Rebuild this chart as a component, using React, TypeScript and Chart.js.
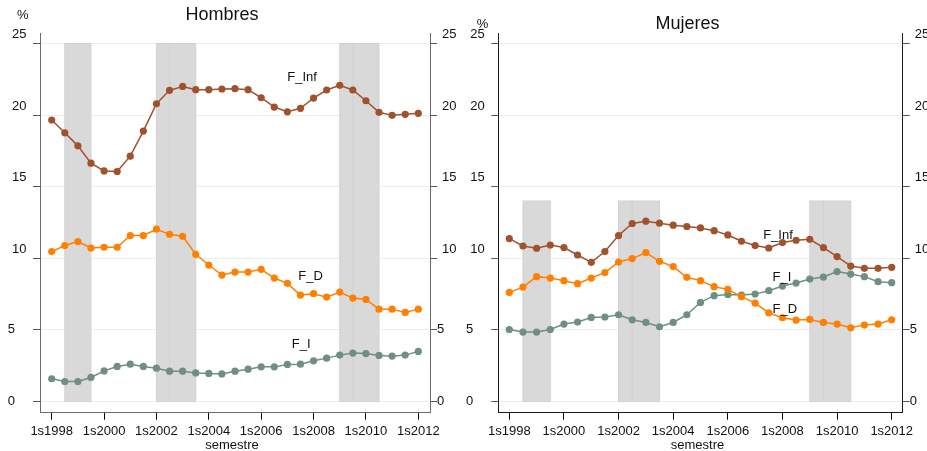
import React, { useEffect, useRef } from "react";
import { Chart, registerables } from "chart.js";

Chart.register(...registerables);

// Semester periods on the x axis
const semesters = [
  "1s1998", "2s1998", "1s1999", "2s1999", "1s2000", "2s2000", "1s2001", "2s2001",
  "1s2002", "2s2002", "1s2003", "2s2003", "1s2004", "2s2004", "1s2005", "2s2005",
  "1s2006", "2s2006", "1s2007", "2s2007", "1s2008", "2s2008", "1s2009", "2s2009",
  "1s2010", "2s2010", "1s2011", "2s2011", "1s2012",
];
const xTickLabels = ["1s1998", "1s2000", "1s2002", "1s2004", "1s2006", "1s2008", "1s2010", "1s2012"];
const yTickValues = [0, 5, 10, 15, 20, 25];

// Shaded periods (start, end)
const shadedPeriods = [
  ["2s1998", "2s1999"],
  ["1s2002", "2s2002"],
  ["2s2002", "2s2003"],
  ["1s2009", "2s2009"],
  ["2s2009", "2s2010"],
];

// Hombres (%)
const hombresInf = [
  19.65, 18.76, 17.85, 16.64, 16.1, 16.06, 17.13, 18.88, 20.79, 21.73, 22.0, 21.77, 21.77, 21.82,
  21.84, 21.77, 21.21, 20.56, 20.23, 20.47, 21.19, 21.75, 22.08, 21.75, 21.0, 20.19, 19.98, 20.05, 20.12,
];
const hombresD = [
  10.47, 10.89, 11.17, 10.72, 10.77, 10.77, 11.59, 11.59, 12.03, 11.68, 11.54, 10.28, 9.53, 8.83,
  9.04, 9.04, 9.23, 8.62, 8.25, 7.43, 7.53, 7.29, 7.64, 7.22, 7.13, 6.45, 6.45, 6.22, 6.45,
];
const hombresI = [
  1.59, 1.4, 1.4, 1.68, 2.14, 2.45, 2.61, 2.45, 2.33, 2.12, 2.12, 2.0, 1.96, 1.93,
  2.12, 2.26, 2.42, 2.42, 2.59, 2.61, 2.84, 3.03, 3.24, 3.38, 3.35, 3.22, 3.17, 3.24, 3.5,
];

// Mujeres (%)
const mujeresInf = [
  11.38, 10.86, 10.7, 10.93, 10.75, 10.23, 9.72, 10.47, 11.59, 12.43, 12.59, 12.45, 12.31, 12.22,
  12.12, 11.93, 11.63, 11.19, 10.89, 10.72, 11.1, 11.26, 11.33, 10.75, 10.12, 9.46, 9.3, 9.3, 9.37,
];
const mujeresD = [
  7.62, 7.99, 8.72, 8.62, 8.44, 8.23, 8.62, 9.0, 9.74, 9.98, 10.4, 9.79, 9.42, 8.67,
  8.44, 8.02, 7.83, 7.32, 6.87, 6.2, 5.85, 5.69, 5.73, 5.52, 5.41, 5.15, 5.34, 5.41, 5.71,
];
const mujeresI = [
  5.03, 4.85, 4.85, 5.03, 5.41, 5.55, 5.87, 5.9, 6.06, 5.71, 5.52, 5.22, 5.52, 6.06,
  6.92, 7.39, 7.48, 7.43, 7.5, 7.74, 8.06, 8.27, 8.55, 8.69, 9.07, 8.9, 8.72, 8.37, 8.3,
];

const seriesNames = ["F_Inf", "F_D", "F_I"];
const seriesColors = ["#a0522d", "#ff8000", "#6f8f80"];

const FONT = "'Liberation Sans', Arial, sans-serif";

type PanelProps = {
  title: string;
  values: number[][];
  // where each series name sits, in (semester index, %) coordinates
  labelAt: [number, number][];
  bandTop: number;
  left: number;
  width: number;
  area: { left: number; right: number };
  xRange: [number, number];
  axisColor: string;
  titleY: number;
  pctPos: [number, number];
};

function Panel(p: PanelProps) {
  const ref = useRef<HTMLCanvasElement>(null);

  useEffect(() => {
    const canvas = ref.current!;
    const height = 451;
    const top = 33;
    const bottom = 412.7;

    const decor = {
      id: "decor",
      beforeDatasetsDraw(chart: any) {
        const { ctx, chartArea } = chart;
        const xs = chart.scales.x;
        const ys = chart.scales.y;
        ctx.save();
        ctx.beginPath();
        ctx.rect(chartArea.left, chartArea.top, chartArea.right - chartArea.left, chartArea.bottom - chartArea.top);
        ctx.clip();
        for (const [a, b] of shadedPeriods) {
          const x0 = xs.getPixelForValue(semesters.indexOf(a));
          const x1 = xs.getPixelForValue(semesters.indexOf(b));
          const y0 = ys.getPixelForValue(p.bandTop);
          const y1 = ys.getPixelForValue(0);
          ctx.fillStyle = "#d9d9d9";
          ctx.fillRect(x0, y0, x1 - x0, y1 - y0);
          ctx.strokeStyle = "#d2d2d2";
          ctx.lineWidth = 1;
          ctx.strokeRect(x0, y0, x1 - x0, y1 - y0);
        }
        ctx.restore();
      },
      afterDraw(chart: any) {
        const { ctx, chartArea } = chart;
        const xs = chart.scales.x;
        const ys = chart.scales.y;
        ctx.save();
        ctx.fillStyle = "#111";
        ctx.textBaseline = "middle";
        ctx.font = `13px ${FONT}`;

        // y tick labels on both sides
        for (const v of yTickValues) {
          const py = ys.getPixelForValue(v);
          const txt = String(v);
          const wide = txt.length > 1;
          ctx.textAlign = "right";
          ctx.fillText(txt, chartArea.left - (wide ? 13.5 : 25), wide ? py - 9 : py);
          ctx.textAlign = "left";
          ctx.fillText(txt, chartArea.right + (wide ? 12 : 7), wide ? py - 9 : py);
        }

        // x tick labels
        ctx.textAlign = "center";
        for (const lab of xTickLabels) {
          const px = xs.getPixelForValue(semesters.indexOf(lab));
          ctx.fillText(lab, px, 431.5);
        }
        ctx.fillText("semestre", (chartArea.left + chartArea.right) / 2 - 3, 445.5);

        // unit mark
        ctx.fillText("%", p.pctPos[0], p.pctPos[1]);

        // series names
        p.labelAt.forEach(([ix, v], i) => {
          ctx.fillText(seriesNames[i], xs.getPixelForValue(ix), ys.getPixelForValue(v));
        });

        // panel title
        ctx.font = `18px ${FONT}`;
        ctx.fillText(p.title, (chartArea.left + chartArea.right) / 2 - 13, p.titleY);
        ctx.restore();
      },
    };

    const chart = new Chart(canvas, {
      type: "line",
      data: {
        datasets: p.values.map((vals, i) => ({
          label: seriesNames[i],
          data: vals.map((v, k) => ({ x: k, y: v })),
          borderColor: seriesColors[i],
          backgroundColor: seriesColors[i],
          pointBackgroundColor: seriesColors[i],
          pointBorderWidth: 0,
          pointRadius: 3.6,
          borderWidth: 1.5,
          tension: 0,
          yAxisID: "y",
        })),
      },
      options: {
        animation: false,
        responsive: false,
        devicePixelRatio: 1,
        layout: { padding: { top, left: 0, right: 0, bottom: 0 } },
        plugins: { legend: { display: false }, tooltip: { enabled: false } },
        scales: {
          x: {
            type: "linear",
            min: p.xRange[0],
            max: p.xRange[1],
            afterBuildTicks: (s: any) => {
              s.ticks = xTickLabels.map((l) => ({ value: semesters.indexOf(l) }));
            },
            afterFit: (s: any) => {
              s.height = height - bottom;
            },
            ticks: { display: false },
            grid: { drawOnChartArea: false, drawTicks: true, tickLength: 7, tickColor: "#000", tickWidth: 1 },
            border: { display: true, color: p.axisColor, width: 1 },
          },
          y: {
            type: "linear",
            position: "left",
            min: -0.78,
            max: 25.73,
            afterBuildTicks: (s: any) => {
              s.ticks = yTickValues.map((v) => ({ value: v }));
            },
            afterFit: (s: any) => {
              s.width = p.area.left;
            },
            ticks: { display: false },
            grid: { color: "#e8eff1", lineWidth: 1, drawTicks: true, tickLength: 7, tickColor: "#555" },
            border: { display: true, color: p.axisColor, width: 1 },
          },
          y2: {
            type: "linear",
            position: "right",
            min: -0.78,
            max: 25.73,
            afterBuildTicks: (s: any) => {
              s.ticks = yTickValues.map((v) => ({ value: v }));
            },
            afterFit: (s: any) => {
              s.width = p.width - p.area.right;
            },
            ticks: { display: false },
            grid: { drawOnChartArea: false, drawTicks: true, tickLength: 7, tickColor: "#555" },
            border: { display: true, color: p.axisColor, width: 1 },
          },
        },
      },
      plugins: [decor],
    } as any);

    return () => chart.destroy();
  }, []);

  return (
    <canvas
      ref={ref}
      width={p.width}
      height={451}
      style={{ position: "absolute", left: p.left, top: 0, width: p.width, height: 451, display: "block" }}
    />
  );
}

export default function App() {
  return (
    <div
      style={{
        position: "fixed",
        left: 0,
        top: 0,
        width: 927,
        height: 451,
        background: "#fff",
        overflow: "hidden",
      }}
    >
      <Panel
        title="Hombres"
        values={[hombresInf, hombresD, hombresI]}
        labelAt={[
          [19.12, 22.66],
          [19.77, 8.76],
          [19.05, 3.97],
        ]}
        bandTop={25}
        left={0}
        width={463}
        area={{ left: 40, right: 430 }}
        xRange={[-0.894, 28.894]}
        axisColor="#6b6b6b"
        titleY={15}
        pctPos={[22.8, 15]}
      />
      <Panel
        title="Mujeres"
        values={[mujeresInf, mujeresD, mujeresI]}
        labelAt={[
          [19.67, 11.6],
          [20.18, 6.41],
          [19.96, 8.69],
        ]}
        bandTop={14}
        left={463}
        width={464}
        area={{ left: 35.3, right: 439.7 }}
        xRange={[-0.805, 28.805]}
        axisColor="#1a1a1a"
        titleY={24}
        pctPos={[19.5, 24]}
      />
    </div>
  );
}
